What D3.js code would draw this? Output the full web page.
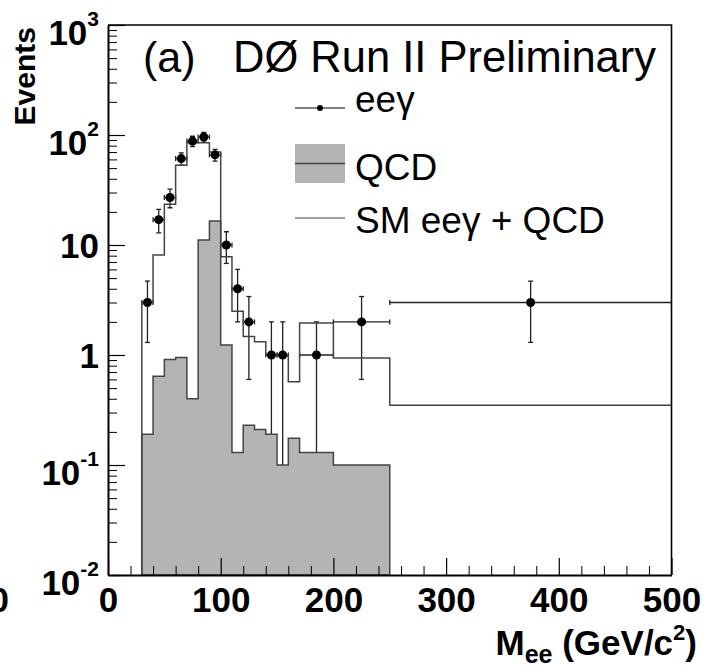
<!DOCTYPE html>
<html>
<head>
<meta charset="utf-8">
<script src="https://cdn.jsdelivr.net/npm/d3@7"></script>
<style>
  body { margin: 0; background: #fff; }
  svg { font-family: "Liberation Sans", Arial, Helvetica, sans-serif; }
</style>
</head>
<body>
<div id="chart"></div>
<script>
// histogram bin edges in M_ee (GeV/c^2)
var binEdges = [30, 40, 50, 60, 70, 80, 90, 100, 110, 120, 130, 140, 150, 160, 170, 200, 250, 500];

// SM eeg + QCD expectation, one value per bin
var smQcd = [3.0, 8.1, 23.5, 53, 85, 85, 70, 7.8, 2.5, 1.47, 1.32, 1.0, 0.98, 0.57, 1.95, 0.94, 0.35];

// QCD background (bins 30 .. 250, nothing above)
var qcd = [0.19, 0.64, 0.91, 0.95, 0.40, 11.1, 16.5, 1.23, 0.13, 0.23, 0.21, 0.19, 0.10, 0.175, 0.13, 0.10];

// eeg data points
var dataX   = [35, 45, 55, 65, 75, 85, 95, 105, 115, 125, 145, 155, 185, 225, 375];
var dataXlo = [30, 40, 50, 60, 70, 80, 90, 100, 110, 120, 140, 150, 170, 200, 250];
var dataXhi = [40, 50, 60, 70, 80, 90, 100, 110, 120, 130, 150, 160, 200, 250, 500];
var dataY   = [3, 17, 27, 61, 88, 96, 66, 10, 4, 2, 1, 1, 1, 2, 3];
var dataErr = [1.7, 4.1, 5.2, 7.8, 9.4, 9.8, 8.1, 3.2, 2.0, 1.4, 1.0, 1.0, 1.0, 1.4, 1.7];

// axis labels
var xTickValues = [0, 100, 200, 300, 400, 500];
var yMajor = [1e-2, 1e-1, 1, 10, 100, 1000];
var yLabelBase = ["10", "10", "1", "10", "10", "10"];
var yLabelExp  = ["-2", "-1", "", "", "2", "3"];

var legendNames = ["ee\u03b3", "QCD", "SM ee\u03b3 + QCD"];

var width = 705, height = 667;
var frame = { left: 108, right: 671.5, top: 25, bottom: 575 };
var histColor = "#444";
var fillColor = "#b4b4b4";

var svg = d3.select("#chart").append("svg")
  .attr("width", width)
  .attr("height", height);

var x = d3.scaleLinear().domain([0, 500]).range([frame.left, frame.right]);
var y = d3.scaleLog().domain([1e-2, 1e3]).range([frame.bottom, frame.top]);

svg.append("clipPath").attr("id", "frameclip")
  .append("rect")
  .attr("x", frame.left).attr("y", frame.top)
  .attr("width", frame.right - frame.left)
  .attr("height", frame.bottom - frame.top);

// ---- data error bars (drawn first, the QCD fill covers them) ----
var errG = svg.append("g").attr("clip-path", "url(#frameclip)")
  .attr("stroke", "#222").attr("stroke-width", 1.3);

dataX.forEach(function(d, i) {
  var yHi = y(dataY[i] + dataErr[i]);
  var lo = dataY[i] - dataErr[i];
  var yLo = lo > 0 ? y(lo) : frame.bottom + 5;
  errG.append("line")
    .attr("x1", x(d)).attr("x2", x(d))
    .attr("y1", yHi).attr("y2", yLo);
  errG.append("line")
    .attr("x1", x(d) - 2.5).attr("x2", x(d) + 2.5)
    .attr("y1", yHi).attr("y2", yHi);
  if (lo > 0) {
    errG.append("line")
      .attr("x1", x(d) - 2.5).attr("x2", x(d) + 2.5)
      .attr("y1", yLo).attr("y2", yLo);
  }
  errG.append("line")
    .attr("x1", x(dataXlo[i])).attr("x2", x(dataXhi[i]))
    .attr("y1", y(dataY[i])).attr("y2", y(dataY[i]));
  [dataXlo[i], dataXhi[i]].forEach(function(e) {
    errG.append("line")
      .attr("x1", x(e)).attr("x2", x(e))
      .attr("y1", y(dataY[i]) - 2.5).attr("y2", y(dataY[i]) + 2.5);
  });
});

// ---- QCD filled histogram ----
var qcdPts = qcd.map(function(v, i) { return [binEdges[i], v]; });
qcdPts.push([binEdges[qcd.length], qcd[qcd.length - 1]]);

svg.append("path")
  .datum(qcdPts)
  .attr("fill", fillColor)
  .attr("stroke", histColor)
  .attr("stroke-width", 1.5)
  .attr("d", d3.area()
    .curve(d3.curveStepAfter)
    .x(function(d) { return x(d[0]); })
    .y0(frame.bottom)
    .y1(function(d) { return y(d[1]); })
  );

// ---- SM + QCD line histogram ----
var smPts = [[binEdges[0], y.domain()[0]]];
smQcd.forEach(function(v, i) { smPts.push([binEdges[i], v]); });
smPts.push([binEdges[binEdges.length - 1], smQcd[smQcd.length - 1]]);

svg.append("path")
  .datum(smPts)
  .attr("fill", "none")
  .attr("stroke", histColor)
  .attr("stroke-width", 1.5)
  .attr("d", d3.line()
    .curve(d3.curveStepAfter)
    .x(function(d) { return x(d[0]); })
    .y(function(d) { return y(d[1]); })
  );

// ---- data markers ----
svg.append("g")
  .selectAll("circle")
  .data(dataX)
  .enter()
  .append("circle")
  .attr("cx", function(d) { return x(d); })
  .attr("cy", function(d, i) { return y(dataY[i]); })
  .attr("r", 4.5)
  .attr("fill", "#000");

// ---- axes ----
var xMinor = d3.range(0, 501, 20).filter(function(v) { return v % 100 != 0; });
var yMinor = y.ticks().filter(function(v) { return yMajor.indexOf(v) < 0; });

svg.append("g")
  .attr("transform", "translate(0," + frame.bottom + ")")
  .call(d3.axisBottom(x).tickValues(xMinor).tickSize(-9).tickFormat(""))
  .call(function(g) { g.select(".domain").remove(); });

var xAxisG = svg.append("g")
  .attr("transform", "translate(0," + frame.bottom + ")")
  .call(d3.axisBottom(x).tickValues(xTickValues).tickSizeInner(-17).tickSizeOuter(0).tickPadding(12));

xAxisG.select(".domain").attr("stroke-width", 2);
xAxisG.selectAll(".tick line").attr("stroke-width", 1.2);
xAxisG.selectAll(".tick text")
  .attr("font-size", 35)
  .attr("font-weight", "bold")
  .attr("font-family", "Liberation Sans, Arial, sans-serif")
  .attr("fill", "#000");

svg.append("g")
  .attr("transform", "translate(" + frame.left + ",0)")
  .call(d3.axisLeft(y).tickValues(yMinor).tickSize(-9).tickFormat(""))
  .call(function(g) { g.select(".domain").remove(); });

var yAxisG = svg.append("g")
  .attr("transform", "translate(" + frame.left + ",0)")
  .call(d3.axisLeft(y).tickValues(yMajor).tickSizeInner(-17).tickSizeOuter(0).tickFormat(""));
yAxisG.select(".domain").attr("stroke-width", 2);
yAxisG.selectAll(".tick line").attr("stroke-width", 1.2);
svg.selectAll(".tick line").attr("stroke", "#000");

// top and right frame lines
svg.append("path")
  .attr("d", "M" + frame.left + "," + frame.top + "H" + frame.right + "V" + frame.bottom)
  .attr("fill", "none")
  .attr("stroke", "#000")
  .attr("stroke-width", 1.6);

// y labels with exponents
yMajor.forEach(function(v, i) {
  var t = svg.append("text")
    .attr("x", 99)
    .attr("text-anchor", "end")
    .attr("font-size", 35)
    .attr("font-weight", "bold");
  if (yLabelExp[i] === "") {
    t.attr("y", y(v) + 12.5).text(yLabelBase[i]);
  } else {
    t.attr("y", y(v) + 20);
    t.append("tspan").text(yLabelBase[i]);
    t.append("tspan").attr("font-size", 21).attr("dy", -19).text(yLabelExp[i]);
  }
});

// leftover label of the neighbouring panel, cut by the left edge
svg.append("text")
  .attr("x", 9).attr("y", frame.bottom + 37)
  .attr("text-anchor", "end")
  .attr("font-size", 35).attr("font-weight", "bold")
  .text("0");

// axis titles
svg.append("text")
  .attr("transform", "translate(35," + (frame.top + 2) + ") rotate(-90)")
  .attr("text-anchor", "end")
  .attr("font-size", 30)
  .attr("font-weight", "bold")
  .text("Events");

var xt = svg.append("text")
  .attr("x", 697).attr("y", 655)
  .attr("text-anchor", "end")
  .attr("font-size", 35)
  .attr("font-weight", "bold");
xt.append("tspan").text("M");
xt.append("tspan").attr("font-size", 25).attr("dy", 8).text("ee");
xt.append("tspan").attr("dy", -8).text(" (GeV/c");
xt.append("tspan").attr("font-size", 22).attr("dy", -15).text("2");
xt.append("tspan").attr("dy", 15).text(")");

// labels inside the frame
svg.append("text")
  .attr("x", 143).attr("y", 72)
  .attr("font-size", 43)
  .text("(a)");
svg.append("text")
  .attr("x", 233).attr("y", 72)
  .attr("font-size", 43.5)
  .text("D\u00d8 Run II Preliminary");

// ---- legend ----
var leg = svg.append("g");
var legY = [112, 180, 233];
leg.selectAll("text")
  .data(legendNames)
  .enter()
  .append("text")
  .attr("x", 355)
  .attr("y", function(d, i) { return legY[i]; })
  .attr("font-size", 37)
  .text(function(d) { return d; });

leg.append("line")
  .attr("x1", 295).attr("x2", 345).attr("y1", 108).attr("y2", 108)
  .attr("stroke", "#000").attr("stroke-width", 1);
leg.append("circle")
  .attr("cx", 320).attr("cy", 108).attr("r", 3)
  .attr("fill", "#000");

leg.append("rect")
  .attr("x", 295).attr("y", 144).attr("width", 50).attr("height", 39)
  .attr("fill", fillColor);
leg.append("line")
  .attr("x1", 295).attr("x2", 345).attr("y1", 163.5).attr("y2", 163.5)
  .attr("stroke", histColor).attr("stroke-width", 1.5);

leg.append("line")
  .attr("x1", 295).attr("x2", 345).attr("y1", 218).attr("y2", 218)
  .attr("stroke", histColor).attr("stroke-width", 1);
</script>
</body>
</html>
